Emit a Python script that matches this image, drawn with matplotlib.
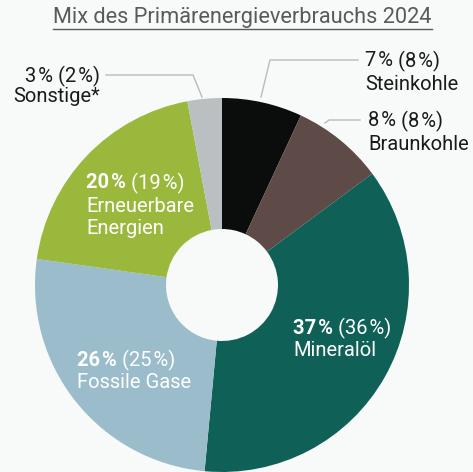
import matplotlib
matplotlib.use("Agg")
import matplotlib.pyplot as plt

labels = ["Steinkohle", "Braunkohle", "Mineralöl", "Fossile Gase", "Erneuerbare\nEnergien", "Sonstige*"]
values_2024 = [7, 8, 37, 26, 20, 3]
values_prev = [8, 8, 36, 25, 19, 2]
colors = ["#0a0d0b", "#5e4a46", "#0f6157", "#9bbccb", "#9ab83c", "#babfc2"]
title = "Mix des Primärenergieverbrauchs 2024"

BG = "#f8f9f9"
FONT = ["Roboto", "DejaVu Sans"]
W, H = 473, 472

fig = plt.figure(figsize=(W / 100, H / 100), dpi=100, facecolor=BG)
ax = fig.add_axes([0, 0, 1, 1])
ax.set_facecolor(BG)

cx, cy, R = 222, H - 285, 187
ax.pie(values_2024, colors=colors, startangle=90, counterclock=False,
       center=(cx, cy), radius=R, wedgeprops=dict(width=R - 56, linewidth=0))
ax.set_xlim(0, W)
ax.set_ylim(0, H)
ax.set_aspect("auto")
ax.axis("off")

pct = lambda v: f"{v}\u200a%"

# title
t = ax.text(242.5, H - 17, title, ha="center", va="center", fontsize=15.7,
            color="#5a5a5a", family=FONT)
fig.canvas.draw()
bb = t.get_window_extent()
ax.plot([bb.x0, bb.x1], [H - 29, H - 29], color="#5a5a5a", lw=1)

FS = 14.5

def two_part(x, y, v, vp, name, color, bold, fs=FS, lh=23):
    first = ax.text(x, y, pct(v), ha="left", va="center", fontsize=fs,
                    color=color, family=FONT, weight="bold" if bold else "normal")
    ax.annotate(" (" + pct(vp) + ")", xy=(1, 0.5), xycoords=first, ha="left",
                va="center", fontsize=fs, color=color, family=FONT)
    for i, line in enumerate(name.split("\n")):
        ax.text(x, y - lh * (i + 1), line, ha="left", va="center", fontsize=fs,
                color=color, family=FONT)

def two_part_right(x, y, v, vp, name, color, fs=FS, lh=21):
    second = ax.text(x, y, " (" + pct(vp) + ")", ha="right", va="center",
                     fontsize=fs, color=color, family=FONT)
    ax.annotate(pct(v), xy=(0, 0.5), xycoords=second, ha="right", va="center",
                fontsize=fs, color=color, family=FONT)
    ax.text(x, y - lh, name, ha="right", va="center", fontsize=fs,
            color=color, family=FONT)

# outer labels
two_part(365, H - 61, values_2024[0], values_prev[0], labels[0], "#1a1a1a", False)
two_part(368, H - 121, values_2024[1], values_prev[1], labels[1], "#1a1a1a", False)
two_part_right(100, H - 76, values_2024[5], values_prev[5], labels[5], "#1a1a1a")

# inner labels
two_part(293, H - 328, values_2024[2], values_prev[2], labels[2], "white", True)
two_part(77, H - 360, values_2024[3], values_prev[3], labels[3], "white", True)
two_part(86, H - 183, values_2024[4], values_prev[4], labels[4], "white", True)

# leader lines
lc = "#b8bcbe"
ax.plot([261, 270, 358], [H - 97, H - 60, H - 60], color=lc, lw=1)
ax.plot([325, 329, 360], [H - 123, H - 120, H - 120], color=lc, lw=1)
ax.plot([106, 193, 202], [H - 75, H - 75, H - 97], color=lc, lw=1)

fig.savefig("out.png", dpi=100, facecolor=BG)
